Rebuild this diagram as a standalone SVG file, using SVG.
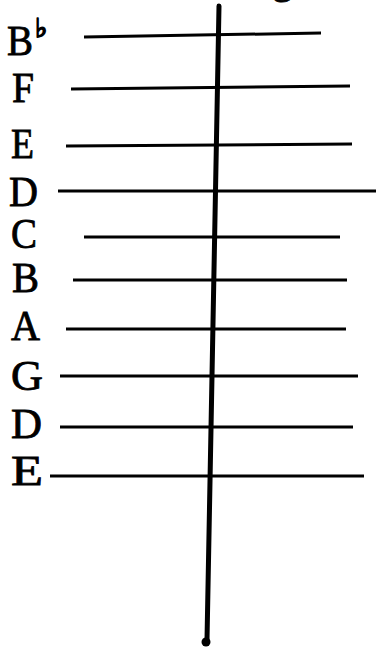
<svg xmlns="http://www.w3.org/2000/svg" width="376" height="648" viewBox="0 0 376 648">
<style>
.lbl{font-family:"Liberation Serif","DejaVu Serif",serif;font-size:42px;fill:#000;stroke:#000;stroke-width:0.8}
.str{stroke:#000;stroke-width:3;stroke-linecap:butt;fill:none}
.bar{stroke:#000;stroke-width:5;stroke-linecap:round;fill:none}
</style>
<rect width="376" height="648" fill="#fff"/>
<text class="lbl" x="272" y="-7">g</text>
<g id="s-bflat"><text class="lbl" x="7" y="55" textLength="26" lengthAdjust="spacingAndGlyphs">B</text><text x="35" y="37" style="font-family:'DejaVu Sans',sans-serif;font-size:26px;font-weight:bold;fill:#000;stroke:#000;stroke-width:1.6">♭</text><line class="str" x1="84" y1="37" x2="321" y2="33"/></g>
<g id="s-f"><text class="lbl" x="12" y="102" textLength="22" lengthAdjust="spacingAndGlyphs">F</text><line class="str" x1="71" y1="89" x2="350" y2="86"/></g>
<g id="s-e1"><text class="lbl" x="11" y="158" textLength="23" lengthAdjust="spacingAndGlyphs">E</text><line class="str" x1="66" y1="146" x2="352" y2="144"/></g>
<g id="s-d1"><text class="lbl" x="9" y="206" textLength="29" lengthAdjust="spacingAndGlyphs">D</text><line class="str" x1="58" y1="191" x2="376" y2="191"/></g>
<g id="s-c"><text class="lbl" x="11" y="248" textLength="26" lengthAdjust="spacingAndGlyphs">C</text><line class="str" x1="84" y1="237" x2="340" y2="237"/></g>
<g id="s-b"><text class="lbl" x="12" y="292" textLength="27" lengthAdjust="spacingAndGlyphs">B</text><line class="str" x1="73" y1="280" x2="347" y2="280"/></g>
<g id="s-a"><text class="lbl" x="11" y="340" textLength="29" lengthAdjust="spacingAndGlyphs">A</text><line class="str" x1="66" y1="329" x2="346" y2="329"/></g>
<g id="s-g"><text class="lbl" x="11" y="390" textLength="32" lengthAdjust="spacingAndGlyphs">G</text><line class="str" x1="60" y1="376" x2="358" y2="376"/></g>
<g id="s-d2"><text class="lbl" x="11" y="438" textLength="31" lengthAdjust="spacingAndGlyphs">D</text><line class="str" x1="60" y1="427" x2="353" y2="427"/></g>
<g id="s-e2"><text class="lbl" x="11" y="485" textLength="32" lengthAdjust="spacingAndGlyphs">E</text><line class="str" x1="50" y1="476" x2="364" y2="476"/></g>
<g id="connectors"><line class="bar" x1="219" y1="6" x2="207" y2="640"/><circle cx="206" cy="642" r="4.5" fill="#000"/></g>
</svg>
